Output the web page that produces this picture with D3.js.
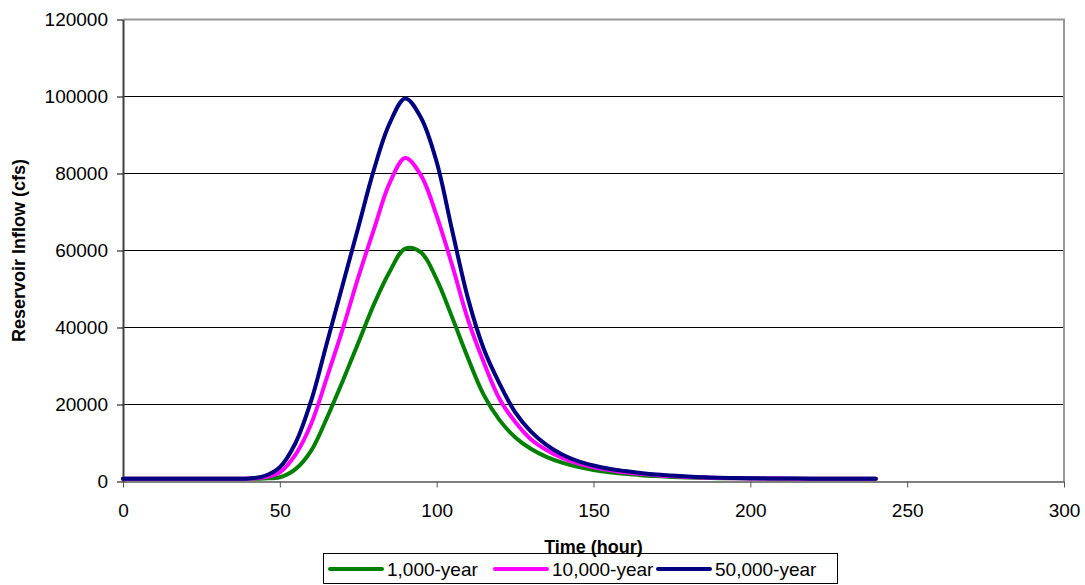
<!DOCTYPE html>
<meta charset="utf-8">
<style>
body { margin: 0; background: #fff; }
svg { display: block; font-family: Arial, "Liberation Sans", sans-serif; }

.grid line {
  stroke: #000;
  stroke-width: 1px;
}

.line {
  fill: none;
  stroke-width: 4px;
  stroke-linejoin: round;
  stroke-linecap: round;
}

.axis text {
  font-size: 19px;
  fill: #000;
}
</style>
<svg width="1085" height="585"></svg>
<script src="https://cdn.jsdelivr.net/npm/d3@7"></script>
<script>

// hours
var hours = [0, 5, 10, 15, 20, 25, 30, 35, 40, 45, 50, 55, 60, 65, 70, 75, 80, 85, 90, 95,
  100, 105, 110, 115, 120, 125, 130, 135, 140, 145, 150, 155, 160, 165, 170, 175, 180, 185,
  190, 195, 200, 205, 210, 215, 220, 225, 230, 235, 240];

// reservoir inflow (cfs)
var flow1000 = [700, 700, 700, 700, 700, 700, 700, 700, 720, 800, 1100, 3200, 8000, 16500,
  26000, 36000, 46000, 54500, 60500, 59500, 52500, 42500, 32000, 22500, 16000, 11500, 8500,
  6400, 4900, 3800, 3000, 2400, 2000, 1650, 1400, 1200, 1050, 950, 870, 820, 780, 760, 740,
  730, 720, 710, 700, 700, 700];

var flow10000 = [700, 700, 700, 700, 700, 700, 700, 700, 750, 1100, 2400, 7000, 15000, 27000,
  39500, 53000, 65500, 77500, 84000, 79500, 69000, 56000, 42000, 31000, 21500, 15500, 11000,
  8200, 6100, 4700, 3700, 3000, 2400, 2000, 1650, 1400, 1200, 1050, 930, 860, 810, 780, 760,
  740, 730, 720, 710, 700, 700];

var flow50000 = [700, 700, 700, 700, 700, 700, 700, 700, 800, 1400, 3700, 10000, 21000, 36000,
  51000, 66000, 81000, 93000, 99500, 94500, 83000, 65000, 47500, 34500, 25500, 18000, 13000,
  9500, 7000, 5300, 4150, 3300, 2700, 2200, 1800, 1550, 1300, 1100, 980, 900, 850, 800, 780,
  760, 740, 730, 720, 710, 700];

var seriesNames = ["1,000-year", "10,000-year", "50,000-year"];
var seriesColors = ["#008000", "#FF00FF", "#000080"];
var xTicks = [0, 50, 100, 150, 200, 250, 300];
var yTicks = [0, 20000, 40000, 60000, 80000, 100000, 120000];

var series = [flow1000, flow10000, flow50000].map(function(vals, i) {
  return {
    id: seriesNames[i],
    color: seriesColors[i],
    values: vals.map(function(v, j) { return {hour: hours[j], flow: v}; })
  };
});

var svg = d3.select("svg"),
    plot = {left: 123, right: 1064, top: 19.5, bottom: 481.5};

var xScale = d3.scaleLinear().domain([0, 300]).range([plot.left, plot.right]),
    yScale = d3.scaleLinear().domain([0, 120000]).range([plot.bottom, plot.top]);

// gridlines
svg.append("g")
    .attr("class", "grid")
  .selectAll("line")
  .data(yTicks.slice(1, -1))
  .enter().append("line")
    .attr("x1", plot.left)
    .attr("x2", plot.right)
    .attr("y1", function(d) { return yScale(d); })
    .attr("y2", function(d) { return yScale(d); });

// top + right border of plot area
svg.append("path")
    .attr("d", "M" + plot.left + "," + plot.top + "H" + plot.right + "V" + plot.bottom)
    .attr("fill", "none")
    .attr("stroke", "#999")
    .attr("stroke-width", 2);

// x axis
var xAxis = svg.append("g")
    .attr("class", "axis x-axis")
    .attr("transform", "translate(0," + plot.bottom + ")")
    .call(d3.axisBottom(xScale).tickValues(xTicks).tickSize(6).tickPadding(16).tickSizeOuter(0));
xAxis.select(".domain").attr("stroke", "#808080").attr("stroke-width", 2);
xAxis.selectAll(".tick line").attr("stroke", "#555");

// y axis
var yAxis = svg.append("g")
    .attr("class", "axis y-axis")
    .attr("transform", "translate(" + plot.left + ",0)")
    .call(d3.axisLeft(yScale).tickValues(yTicks).tickFormat(d3.format("d")).tickSize(6).tickPadding(9).tickSizeOuter(0));
yAxis.select(".domain").attr("stroke", "#404040").attr("stroke-width", 2);
yAxis.selectAll(".tick line").attr("stroke", "#000");

// lines
var line = d3.line()
    .curve(d3.curveCatmullRom.alpha(0.5))
    .x(function(d) { return xScale(d.hour); })
    .y(function(d) { return yScale(d.flow); });

svg.selectAll(".line")
  .data(series)
  .enter().append("path")
    .attr("class", "line")
    .attr("stroke", function(d) { return d.color; })
    .attr("d", function(d) { return line(d.values); });

// axis titles
svg.append("text")
    .attr("transform", "translate(25," + ((plot.top + plot.bottom) / 2) + ") rotate(-90)")
    .attr("text-anchor", "middle")
    .attr("font-weight", "bold")
    .style("font-size", "18px")
    .text("Reservoir Inflow (cfs)");

// legend
var legend = svg.append("g").attr("class", "legend");

legend.append("rect")
    .attr("x", 323.5)
    .attr("y", 553.5)
    .attr("width", 514)
    .attr("height", 30)
    .attr("fill", "#fff")
    .attr("stroke", "#000")
    .attr("stroke-width", 1);

var legendX = [330, 495, 658];

var item = legend.selectAll(".item")
  .data(series)
  .enter().append("g")
    .attr("class", "item")
    .attr("transform", function(d, i) { return "translate(" + legendX[i] + ",569)"; });

item.append("line")
    .attr("x1", 0)
    .attr("x2", 52)
    .attr("stroke", function(d) { return d.color; })
    .attr("stroke-width", 4)
    .attr("stroke-linecap", "round");

item.append("text")
    .attr("x", 57)
    .attr("dy", "0.35em")
    .style("font-size", "19px")
    .text(function(d) { return d.id; });

svg.append("text")
    .attr("x", (plot.left + plot.right) / 2)
    .attr("y", 553)
    .attr("text-anchor", "middle")
    .attr("font-weight", "bold")
    .style("font-size", "18px")
    .text("Time (hour)");

</script>
